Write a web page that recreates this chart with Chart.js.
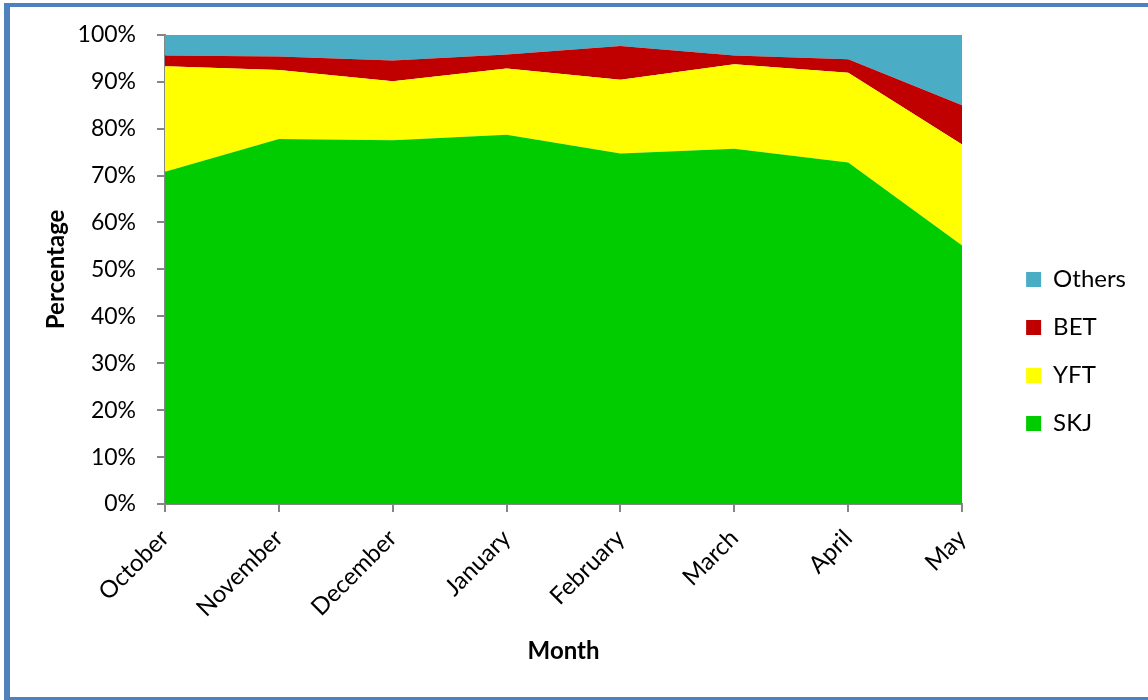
<!DOCTYPE html>
<html lang="en">
<head>
<meta charset="UTF-8">
<title>Catch composition by month</title>
<script src="https://cdn.jsdelivr.net/npm/chart.js"></script>
<style>
  body { margin: 0; background: #fff; }
  #wrap { position: relative; width: 1148px; height: 700px; overflow: hidden; }
  #wrap canvas { position: absolute; left: 0; top: 0; }
  #frame {
    position: absolute; left: 4px; top: 3px; width: 1180px; height: 690px;
    border-top: 4px solid #4F81BD; border-left: 6px solid #4F81BD; border-bottom: 4px solid #4F81BD;
    pointer-events: none;
  }
</style>
</head>
<body>
<div id="wrap">
  <canvas id="catchChart" width="1148" height="700"></canvas>
  <div id="frame"></div>
</div>
<script>
// share of each species in the catch (%), per month
const months = ['October', 'November', 'December', 'January', 'February', 'March', 'April', 'May'];
const skj    = [70.8, 77.8, 77.5, 78.7, 74.7, 75.7, 72.8, 55.1];
const yft    = [22.5, 14.7, 12.6, 14.1, 15.7, 18.0, 19.1, 21.5];
const bet    = [2.3, 2.9, 4.4, 3.0, 7.2, 1.9, 2.9, 8.4];
const others = [4.4, 4.6, 5.5, 4.2, 2.4, 4.4, 5.2, 15.0];

const FONT = 'Lato, Carlito, "Open Sans", sans-serif';
const AXIS_GREY = '#868686';

function area(label, data, color, fill) {
  return {
    label: label, data: data, fill: fill,
    backgroundColor: color, borderColor: color, borderWidth: 0,
    pointRadius: 0, tension: 0
  };
}

// leave a gap between plot and legend: reserve extra width, then slide the legend over
const legendExtra = 25, legendShift = 40, legendDrop = 2;
const legendSpacer = {
  id: 'legendSpacer',
  afterInit(chart) {
    const lg = chart.legend;
    const fit = lg.fit;
    lg.fit = function () { fit.call(this); this.width += legendExtra; };
  },
  afterLayout(chart) {
    const lg = chart.legend;
    lg.left += legendShift; lg.right += legendShift;
    lg.top += legendDrop; lg.bottom += legendDrop;
  }
};

new Chart(document.getElementById('catchChart'), {
  type: 'line',
  data: {
    labels: months,
    datasets: [
      area('SKJ', skj, '#00CC00', 'origin'),
      area('YFT', yft, '#FFFF00', '-1'),
      area('BET', bet, '#C00000', '-1'),
      area('Others', others, '#4BACC6', '-1')
    ]
  },
  options: {
    responsive: false,
    animation: false,
    layout: { padding: { left: 42, top: 33, right: 27, bottom: 34 } },
    scales: {
      x: {
        offset: false,
        afterFit: s => { s.height = 162; },
        grid: { drawOnChartArea: false, color: AXIS_GREY, tickLength: 8, lineWidth: 2 },
        border: { color: AXIS_GREY, width: 2 },
        ticks: {
          minRotation: 45, maxRotation: 45, padding: 12, color: '#000',
          font: { family: FONT, size: 24 }
        },
        title: {
          display: true, text: 'Month', color: '#000',
          font: { family: FONT, size: 24, weight: 'bold' },
          padding: 0
        }
      },
      y: {
        stacked: true, min: 0, max: 100,
        afterFit: s => { s.width = 123; },
        grid: { drawOnChartArea: false, color: AXIS_GREY, tickLength: 8, lineWidth: 2 },
        border: { color: AXIS_GREY, width: 2 },
        ticks: {
          stepSize: 10, padding: 21, color: '#000',
          font: { family: FONT, size: 23 },
          callback: v => v + '%'
        },
        title: {
          display: true, text: 'Percentage', color: '#000',
          font: { family: FONT, size: 24, weight: 'bold' },
          padding: 0
        }
      }
    },
    plugins: {
      legend: {
        position: 'right',
        reverse: true,
        labels: {
          boxWidth: 15, boxHeight: 15, padding: 24, color: '#000',
          font: { family: FONT, size: 24 }
        }
      },
      tooltip: { enabled: false }
    }
  },
  plugins: [legendSpacer]
});
</script>
</body>
</html>
